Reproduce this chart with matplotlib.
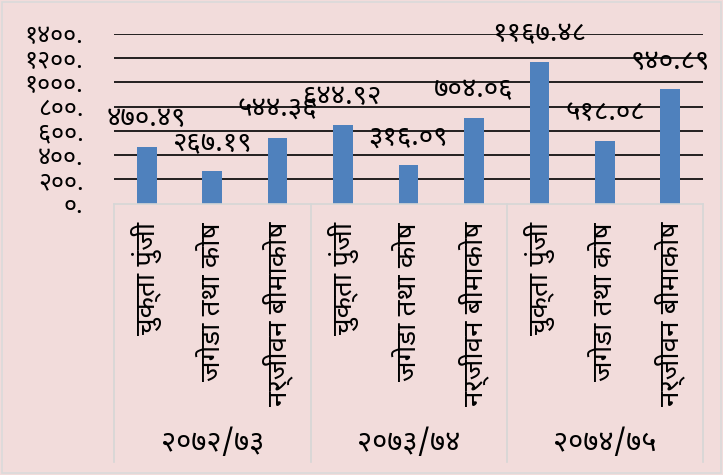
import matplotlib
matplotlib.use("Agg")
import matplotlib.pyplot as plt
from matplotlib import font_manager
from matplotlib.transforms import blended_transform_factory
from matplotlib.lines import Line2D
from matplotlib.patches import Rectangle

# ---- data ----
groups = ["२०७२/७३", "२०७३/७४", "२०७४/७५"]
categories = ["चुक्ता पुंजी", "जगेडा तथा कोष", "नर्जीवन बीमाकोष"]
values = [470.49, 267.19, 544.36, 644.92, 316.09, 704.06, 1167.48, 518.08, 940.89]
value_labels = ["४७०.४९", "२६७.१९", "५४४.३६", "६४४.९२", "३१६.०९", "७०४.०६",
                "११६७.४८", "५१८.०८", "९४०.८९"]
yticks = [0, 200, 400, 600, 800, 1000, 1200, 1400]
ytick_labels = ["०.", "२००.", "४००.", "६००.", "८००.", "१०००.", "१२००.", "१४००."]

# ---- font with Devanagari ----
available = {f.name for f in font_manager.fontManager.ttflist}
deva = None
for name in ["Noto Sans Devanagari", "Hind", "Mukta", "FreeSans", "Poppins",
             "Annapurna SIL", "Arya"]:
    if name in available:
        deva = name
        break
families = ([deva] if deva else []) + ["DejaVu Sans"]
plt.rcParams["font.family"] = families

W, H = 723, 475
fig = plt.figure(figsize=(W / 100, H / 100), dpi=100)
bg = "#F2DCDB"
fig.patch.set_facecolor(bg)

def fx(px):
    return px / W

def fy(py):
    return 1 - py / H

left, right, top, bottom = 114, 703, 33.7, 203.7
ax = fig.add_axes([fx(left), fy(bottom), fx(right - left), fy(top) - fy(bottom)])
ax.set_facecolor(bg)

n = len(values)
xs = list(range(n))
ax.bar(xs, values, width=0.3, color="#4F81BD", zorder=3)
ax.set_xlim(-0.5, n - 0.5)
ax.set_ylim(0, 1400)
for t in yticks[1:]:
    ax.axhline(t, color="black", lw=1.2, zorder=1)
for s in ax.spines.values():
    s.set_visible(False)
ax.set_xticks([])
ax.set_yticks(yticks)
ax.set_yticklabels(ytick_labels, fontsize=18)
ax.tick_params(axis="y", length=0, pad=22)

for x, v, lab in zip(xs, values, value_labels):
    ax.annotate(lab, (x, v), xytext=(0, 20), textcoords="offset points",
                ha="center", va="center", fontsize=20, zorder=4)

# category box
box_top, box_bot = 204, 462
grey = "#D6D6D6"
fig.add_artist(Line2D([fx(left), fx(right)], [fy(box_top), fy(box_top)], color=grey, lw=1.2))
for gx in [114, 310.5, 507, 703]:
    fig.add_artist(Line2D([fx(gx), fx(gx)], [fy(box_top), fy(box_bot)], color=grey, lw=1.2))

tr = blended_transform_factory(ax.transData, fig.transFigure)
for i in range(n):
    ax.text(i, fy(222), categories[i % 3], transform=tr, rotation=90,
            ha="center", va="top", fontsize=20, clip_on=False)
for g, name in enumerate(groups):
    ax.text(g * 3 + 1, fy(443), name, transform=tr, ha="center", va="center",
            fontsize=21, clip_on=False)

# figure border
fig.add_artist(Rectangle((fx(2), fy(473)), fx(719), fy(2) - fy(473),
                         fill=False, edgecolor="#DADADA", lw=1.2))

fig.savefig("out.png", dpi=100, facecolor=bg)
